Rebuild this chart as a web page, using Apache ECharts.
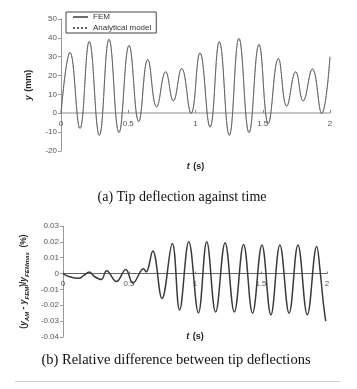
<!DOCTYPE html>
<html>
<head>
<meta charset="UTF-8" />
<title></title>
<script src="https://cdn.jsdelivr.net/npm/echarts@6/dist/echarts.min.js"></script>
<style type="text/css">
html, body { margin:0; padding:0; background:#fff; }
#main { width:357px; height:389px; }
</style>
</head>
<body>
<div id="main"></div>
<script type="text/javascript">
// (a) tip deflection, read at peaks / troughs
var tTop = [0, 0.067, 0.141, 0.21, 0.285, 0.357, 0.431, 0.506, 0.578, 0.645, 0.711, 0.778, 0.835, 0.897, 0.967,
            1.033, 1.108, 1.177, 1.251, 1.323, 1.398, 1.472, 1.541, 1.616, 1.678, 1.745, 1.80, 1.869, 1.938, 2.0];
var yFem = [0, 32.3, -8, 38, -11.7, 39.2, -10.2, 36, -4.4, 28.5, 3.4, 22, 6.6, 23.8, 0,
            32, -7.3, 38, -11.7, 39.7, -10.2, 36.5, -5.4, 29, 3.8, 22, 6.6, 23.5, 0, 30];
var yAnalytical = [0, 32.3, -8, 38, -11.7, 39.2, -10.2, 36, -4.4, 28.5, 3.4, 22, 6.6, 23.8, 0,
            32, -7.3, 38, -11.7, 39.7, -10.2, 36.5, -5.4, 29, 3.8, 22, 6.6, 23.5, 0, 30];

// (b) relative difference
var tDiff = [0, 0.05, 0.12, 0.16, 0.2, 0.24, 0.29, 0.33, 0.405, 0.475, 0.53, 0.61, 0.63, 0.68, 0.75,
             0.828, 0.883, 0.953, 1.026, 1.089, 1.156, 1.228, 1.298, 1.368, 1.436, 1.507, 1.575,
             1.643, 1.713, 1.78, 1.851, 1.922, 1.95, 1.97, 1.99];
var yDiff = [0, -0.002, -0.003, -0.001, 0.001, -0.002, -0.0037, 0.0018, -0.005, 0.0026, -0.006, 0.003, 0.001, 0.0142, -0.0157,
             0.019, -0.023, 0.020, -0.0247, 0.020, -0.0243, 0.0195, -0.0243, 0.0184, -0.025, 0.018, -0.026,
             0.018, -0.025, 0.018, -0.026, 0.017, 0.0, -0.017, -0.030];

var tTicks = ['0', '0.5', '1', '1.5', '2'];

function pairs(xs, ys) {
  var out = [];
  for (var i = 0; i < xs.length; i++) out.push([xs[i], ys[i]]);
  return out;
}

var myChart = echarts.init(document.getElementById('main'));
var lbl = { color:'#555', fontSize:8, fontFamily:'Liberation Sans' };
var nameRich = {
  i: { fontSize:9, fontWeight:'bold', fontStyle:'italic', color:'#222', fontFamily:'Liberation Sans' },
  b: { fontSize:9, fontWeight:'bold', color:'#222', fontFamily:'Liberation Sans' }
};

myChart.setOption({
  animation: false,
  backgroundColor: '#fff',
  grid: [
    { left:61, top:19, width:269, height:132 },
    { left:63, top:226, width:264, height:111 }
  ],
  legend: {
    data: ['FEM', 'Analytical model'],
    orient: 'vertical',
    left: 66, top: 12,
    padding: [1, 5, 1, 6],
    itemGap: 3, itemWidth: 15, itemHeight: 9,
    borderColor: '#444', borderWidth: 1,
    itemStyle: { opacity: 0 },
    textStyle: { fontSize:8, color:'#333', fontFamily:'Liberation Sans' }
  },
  xAxis: [
    {
      type:'value', gridIndex:0, min:0, max:2, interval:0.5,
      // axis drawn along y = 0 (38px above the grid bottom)
      offset: -38,
      axisLine: { onZero:false, lineStyle:{ color:'#b4b4b4', width:1.5 } },
      axisTick: { inside:true, length:3, lineStyle:{ color:'#888' } },
      axisLabel: Object.assign({ margin:7, formatter:function (v) { return tTicks[Math.round(v * 2)]; } }, lbl),
      splitLine: { show:false },
      name: '{i|t} {b|(s)}', nameLocation:'middle', nameGap:48,
      nameTextStyle: { rich: nameRich }
    },
    {
      type:'value', gridIndex:1, min:0, max:2, interval:0.5,
      offset: -63.5,
      axisLine: { onZero:false, lineStyle:{ color:'#666', width:1 } },
      axisTick: { inside:true, length:2, lineStyle:{ color:'#777' } },
      axisLabel: Object.assign({ margin:6, formatter:function (v) { return tTicks[Math.round(v * 2)]; } }, lbl),
      splitLine: { show:false },
      name: '{i|t} {b|(s)}', nameLocation:'middle', nameGap:57,
      nameTextStyle: { rich: nameRich }
    }
  ],
  yAxis: [
    {
      type:'value', gridIndex:0, min:-20, max:50, interval:10,
      axisLine: { show:true, lineStyle:{ color:'#999', width:1 } },
      axisTick: { show:true, length:3, lineStyle:{ color:'#999' } },
      axisLabel: Object.assign({ margin:4 }, lbl),
      splitLine: { show:false },
      name: '{i|y} {b|(mm)}', nameLocation:'middle', nameGap:23, nameRotate:90,
      nameTextStyle: { rich: nameRich }
    },
    {
      type:'value', gridIndex:1, min:-0.04, max:0.03, interval:0.01,
      axisLine: { show:true, lineStyle:{ color:'#999', width:1 } },
      axisTick: { show:true, length:3, lineStyle:{ color:'#999' } },
      axisLabel: Object.assign({ margin:4, formatter:function (v) { return Math.abs(v) < 1e-9 ? '0' : v.toFixed(2); } }, lbl),
      splitLine: { show:false },
      name: '{b|(}{i|y}{s|AM}{b| - }{i|y}{s|FEM}{b|)/}{i|y}{s|FEMmax}{b|  (%)}',
      nameLocation:'middle', nameGap:27, nameRotate:90,
      nameTextStyle: { rich: {
        b: { fontSize:8.5, lineHeight:12, fontWeight:'bold', color:'#222', fontFamily:'Liberation Sans' },
        i: { fontSize:8.5, lineHeight:12, fontWeight:'bold', fontStyle:'italic', color:'#222', fontFamily:'Liberation Sans' },
        s: { fontSize:6, lineHeight:7, verticalAlign:'bottom', fontWeight:'bold', fontStyle:'italic', color:'#222', fontFamily:'Liberation Sans' } } }
    }
  ],
  series: [
    {
      name:'FEM', type:'line', xAxisIndex:0, yAxisIndex:0,
      data: pairs(tTop, yFem), symbol:'none', smooth:0.45,
      lineStyle: { color:'#6e6e6e', width:1 }, itemStyle: { color:'#6e6e6e' }
    },
    {
      name:'Analytical model', type:'line', xAxisIndex:0, yAxisIndex:0,
      data: pairs(tTop, yAnalytical), symbol:'none', smooth:0.45,
      lineStyle: { color:'#555', width:0.8, type:'dotted' }, itemStyle: { color:'#555' }
    },
    {
      name:'diff', type:'line', xAxisIndex:1, yAxisIndex:1,
      data: pairs(tDiff, yDiff), symbol:'none', smooth:0.4,
      lineStyle: { color:'#3a3a3a', width:1.5 }
    }
  ],
  graphic: [
    { type:'text', x:182, y:197, style:{ text:'(a) Tip deflection against time', align:'center', verticalAlign:'middle',
      fontSize:14, fontFamily:'Liberation Serif', fill:'#111' } },
    { type:'text', x:176, y:360, style:{ text:'(b) Relative difference between tip deflections', align:'center', verticalAlign:'middle',
      fontSize:14.5, fontFamily:'Liberation Serif', fill:'#111' } },
    { type:'line', shape:{ x1:15, y1:381.5, x2:340, y2:381.5 }, style:{ stroke:'#cfcfcf', lineWidth:1 } }
  ]
});
</script>
</body>
</html>
